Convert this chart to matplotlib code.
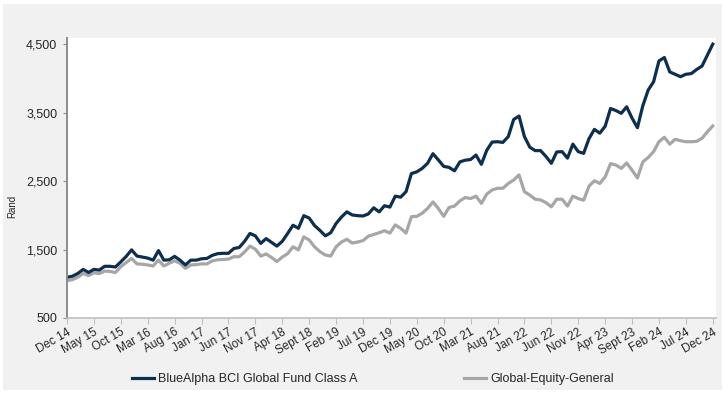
import matplotlib.pyplot as plt
from matplotlib.patches import Rectangle

plt.rcParams['font.family'] = ['Liberation Sans', 'DejaVu Sans']

# Monthly values, Dec 2014 - Dec 2024
fund = [
    1095, 1110, 1150, 1210, 1165, 1210, 1200, 1255, 1255, 1245,
    1320, 1400, 1495, 1405, 1390, 1375, 1345, 1485, 1345, 1350,
    1400, 1345, 1275, 1345, 1345, 1365, 1370, 1415, 1440, 1445,
    1445, 1515, 1530, 1620, 1735, 1700, 1590, 1660, 1605, 1550,
    1620, 1735, 1855, 1810, 1995, 1960, 1850, 1780, 1700, 1745,
    1880, 1975, 2050, 2005, 1995, 1990, 2020, 2110, 2050, 2140,
    2120, 2280, 2265, 2345, 2610, 2635, 2685, 2760, 2900, 2810,
    2715, 2700, 2650, 2780, 2805, 2815, 2880, 2745, 2950, 3070,
    3075, 3065, 3150, 3400, 3450, 3150, 2995, 2945, 2945, 2860,
    2760, 2925, 2930, 2835, 3040, 2930, 2905, 3120, 3255, 3200,
    3300, 3560, 3530, 3490, 3585, 3420, 3280, 3600, 3830, 3950,
    4255, 4305, 4095, 4060, 4025, 4060, 4070, 4130, 4180, 4340,
    4500,
]
sector = [
    1045, 1060, 1095, 1150, 1120, 1160, 1150, 1185, 1180, 1165,
    1250, 1310, 1370, 1290, 1285, 1275, 1260, 1345, 1260, 1300,
    1335, 1300, 1225, 1275, 1280, 1290, 1290, 1335, 1350, 1355,
    1360, 1395, 1395, 1465, 1550, 1505, 1405, 1435, 1385, 1325,
    1390, 1440, 1540, 1495, 1685, 1640, 1540, 1470, 1420, 1405,
    1540, 1610, 1650, 1595, 1610, 1630, 1695, 1720, 1745, 1775,
    1740, 1860, 1810, 1740, 1980, 1985, 2030, 2100, 2195, 2100,
    1985, 2115, 2135, 2210, 2260, 2245, 2280, 2175, 2310, 2370,
    2395, 2395, 2465, 2515, 2590, 2345, 2295, 2235, 2225, 2185,
    2125, 2235, 2235, 2135, 2280, 2245, 2220, 2425, 2505, 2465,
    2560, 2755, 2735, 2685, 2765, 2660, 2545, 2780, 2845, 2930,
    3075, 3140, 3040, 3110, 3090, 3075, 3075, 3080, 3125, 3220,
    3305,
]
tick_labels = [
    'Dec 14', 'May 15', 'Oct 15', 'Mar 16', 'Aug 16', 'Jan 17', 'Jun 17',
    'Nov 17', 'Apr 18', 'Sept 18', 'Feb 19', 'Jul 19', 'Dec 19', 'May 20',
    'Oct 20', 'Mar 21', 'Aug 21', 'Jan 22', 'Jun 22', 'Nov 22', 'Apr 23',
    'Sept 23', 'Feb 24', 'Jul 24', 'Dec 24',
]
y_ticks = [500, 1500, 2500, 3500, 4500]

months = list(range(len(fund)))

fig = plt.figure(figsize=(7.28, 3.95), dpi=100, facecolor='white')
# light grey panel behind everything
fig.add_artist(Rectangle((3 / 728, 5 / 395), 719 / 728, 386 / 395,
                         transform=fig.transFigure, facecolor='#f1f1f1',
                         edgecolor='none', zorder=-10))
ax = fig.add_axes([67 / 728, 1 - 318 / 395, (716 - 67) / 728, (318 - 38) / 395])
ax.set_facecolor('white')

ax.plot(months, sector, color='#a6a6a6', lw=2.3, label='Global-Equity-General',
        solid_joinstyle='round')
ax.plot(months, fund, color='#0c2f50', lw=2.3,
        label='BlueAlpha BCI Global Fund Class A', solid_joinstyle='round')

ax.set_xlim(0, 120.6)
ax.set_ylim(500, 4590)
ax.set_yticks(y_ticks)
ax.set_yticklabels([f'{v:,}' for v in y_ticks])
ax.set_xticks(range(0, 121, 5))
ax.set_xticklabels(tick_labels, rotation=30, ha='right', rotation_mode='anchor')

for side in ['top', 'right']:
    ax.spines[side].set_visible(False)
ax.spines['left'].set_color('#8c8c8c')
ax.spines['left'].set_linewidth(1.4)
ax.spines['bottom'].set_color('#bfbfbf')
ax.spines['bottom'].set_linewidth(1.2)
ax.tick_params(axis='y', length=3, color='#8c8c8c', labelsize=9,
               labelcolor='#262626', pad=4)
ax.tick_params(axis='x', length=4, color='#bfbfbf', labelsize=8.5,
               labelcolor='#262626', pad=2)
ax.set_ylabel('Rand', fontsize=7, color='#262626')
ax.yaxis.set_label_coords(-0.076, 0.40)

handles, labels = ax.get_legend_handles_labels()
fig.legend(handles[::-1], labels[::-1], loc='center', bbox_to_anchor=(0.512, 0.04),
           ncol=2, frameon=False, fontsize=9, handlelength=1.8, handletextpad=0.3,
           columnspacing=8.5, labelcolor='#262626')

fig.savefig('out.png', dpi=100, facecolor=fig.get_facecolor())
